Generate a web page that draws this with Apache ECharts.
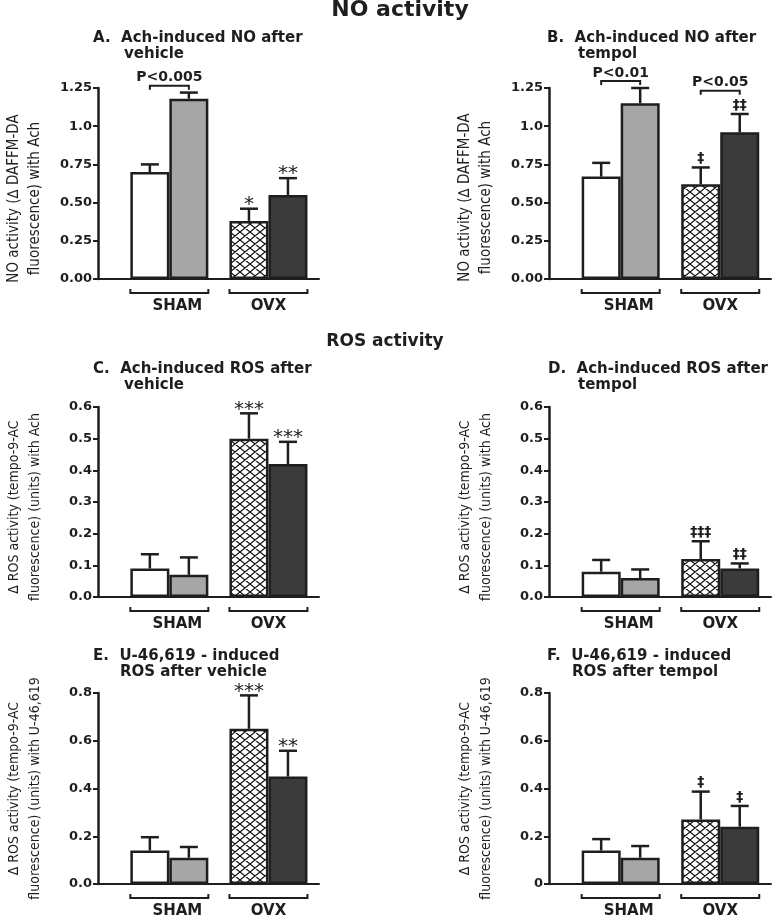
<!DOCTYPE html>
<html><head><meta charset="utf-8">
<script src="https://cdn.jsdelivr.net/npm/echarts@6/dist/echarts.min.js"></script>
<style>html,body{margin:0;padding:0;background:#fff}#c{width:780px;height:916px}</style>
</head><body><div id="c"></div>
<script>
// ---------- DATA ----------
const groups = ['SHAM', 'OVX'];
// bar order in every panel: SHAM-white, SHAM-gray, OVX-hatched, OVX-dark
const noVehMean = [0.70, 1.18, 0.38, 0.55];
const noVehSem  = [0.05, 0.04, 0.08, 0.11];
const noVehSig  = ['', '', '*', '**'];

const noTemMean = [0.67, 1.15, 0.62, 0.96];
const noTemSem  = [0.09, 0.10, 0.11, 0.12];
const noTemSig  = ['', '', '‡', '‡‡'];

const rosAchVehMean = [0.09, 0.07, 0.50, 0.42];
const rosAchVehSem  = [0.045, 0.055, 0.08, 0.07];
const rosAchVehSig  = ['', '', '***', '***'];

const rosAchTemMean = [0.08, 0.06, 0.12, 0.09];
const rosAchTemSem  = [0.037, 0.027, 0.056, 0.016];
const rosAchTemSig  = ['', '', '‡‡‡', '‡‡'];

const rosUVehMean = [0.14, 0.11, 0.65, 0.45];
const rosUVehSem  = [0.056, 0.045, 0.14, 0.108];
const rosUVehSig  = ['', '', '***', '**'];

const rosUTemMean = [0.14, 0.11, 0.27, 0.24];
const rosUTemSem  = [0.048, 0.049, 0.117, 0.087];
const rosUTemSig  = ['', '', '‡', '‡'];

// significance brackets (bar index a to bar index b, at value level)
const pBracketsA = [{a: 0, b: 1, level: 1.265, text: 'P<0.005'}];
const pBracketsB = [{a: 0, b: 1, level: 1.295, text: 'P<0.01'}, {a: 2, b: 3, level: 1.232, text: 'P<0.05'}];

const ticksNO    = ['0.00', '0.25', '0.50', '0.75', '1.0', '1.25'];
const ticksROS6  = ['0.0', '0.1', '0.2', '0.3', '0.4', '0.5', '0.6'];
const ticksROS8E = ['0.0', '0.2', '0.4', '0.6', '0.8'];
const ticksROS8F = ['0', '0.2', '0.4', '0.6', '0.8'];

// ---------- STYLE ----------
const INK = '#1e1e1e';
const BAR_W = 39;
const CAP = 18;
const GROUP_LABEL_DX = [8, 0];
const BOLD = 'DejaVu Sans';
const NARROW = '"Liberation Sans Narrow","DejaVu Sans Condensed","Arial Narrow","Liberation Sans",sans-serif';

function hatchCanvas() {
  const w = 10, h = 8;
  const c = document.createElement('canvas');
  c.width = w; c.height = h;
  const g = c.getContext('2d');
  g.fillStyle = '#fff'; g.fillRect(0, 0, w, h);
  g.strokeStyle = '#111'; g.lineWidth = 1.2;
  g.beginPath();
  for (const dx of [-w, 0, w]) for (const dy of [-h, 0, h]) {
    g.moveTo(dx, dy); g.lineTo(dx + w, dy + h);
    g.moveTo(dx + w, dy); g.lineTo(dx, dy + h);
  }
  g.stroke();
  return c;
}
const HATCH = {image: hatchCanvas(), repeat: 'repeat'};
const FILLS = ['#ffffff', '#a6a6a6', HATCH, '#3b3b3b'];

const panels = [
  {grid: {left: 98, top: 88, width: 221, height: 191}, mean: noVehMean, sem: noVehSem, sig: noVehSig,
   max: 1.25, interval: 0.25, ticks: ticksNO, p: pBracketsA, nameShift: 30, nameSize: 15,
   yname: 'NO activity (∆ DAFFM-DA\nfluorescence) with Ach',
   t1: 'A.  Ach-induced NO after', t2: 'vehicle', tx: 93, tx2: 124, ty: 38},
  {grid: {left: 549, top: 88, width: 222, height: 191}, mean: noTemMean, sem: noTemSem, sig: noTemSig,
   max: 1.25, interval: 0.25, ticks: ticksNO, p: pBracketsB, nameShift: 28, nameSize: 15,
   yname: 'NO activity (∆ DAFFM-DA\nfluorescence) with Ach',
   t1: 'B.  Ach-induced NO after', t2: 'tempol', tx: 547, tx2: 578, ty: 38},
  {grid: {left: 98, top: 407, width: 221, height: 190}, mean: rosAchVehMean, sem: rosAchVehSem, sig: rosAchVehSig,
   max: 0.6, interval: 0.1, ticks: ticksROS6, p: [], nameShift: 10, nameSize: 14,
   yname: '∆ ROS activity (tempo-9-AC\nfluorescence) (units) with Ach',
   t1: 'C.  Ach-induced ROS after', t2: 'vehicle', tx: 93, tx2: 124, ty: 369},
  {grid: {left: 549, top: 407, width: 222, height: 190}, mean: rosAchTemMean, sem: rosAchTemSem, sig: rosAchTemSig,
   max: 0.6, interval: 0.1, ticks: ticksROS6, p: [], nameShift: 10, nameSize: 14,
   yname: '∆ ROS activity (tempo-9-AC\nfluorescence) (units) with Ach',
   t1: 'D.  Ach-induced ROS after', t2: 'tempol', tx: 548, tx2: 578, ty: 369},
  {grid: {left: 98, top: 693, width: 221, height: 191}, mean: rosUVehMean, sem: rosUVehSem, sig: rosUVehSig,
   max: 0.8, interval: 0.2, ticks: ticksROS8E, p: [], nameShift: 0, nameSize: 14,
   yname: '∆ ROS activity (tempo-9-AC\nfluorescence) (units) with U-46,619',
   t1: 'E.  U-46,619 - induced', t2: 'ROS after vehicle', tx: 93, tx2: 120, ty: 656},
  {grid: {left: 549, top: 693, width: 222, height: 191}, mean: rosUTemMean, sem: rosUTemSem, sig: rosUTemSig,
   max: 0.8, interval: 0.2, ticks: ticksROS8F, p: [], nameShift: 0, nameSize: 14,
   yname: '∆ ROS activity (tempo-9-AC\nfluorescence) (units) with U-46,619',
   t1: 'F.  U-46,619 - induced', t2: 'ROS after tempol', tx: 547, tx2: 572, ty: 656}
];

const grid = [], xAxis = [], yAxis = [], series = [], graphic = [];
const grpOf = i => (i < 2 ? 0 : 1);
const offOf = i => (i % 2 ? 0.5 : -0.5) * BAR_W;

graphic.push({type: 'text', x: 400, y: 10, style: {text: 'NO activity', font: 'bold 22px ' + BOLD, fill: INK, align: 'center', verticalAlign: 'middle'}});
graphic.push({type: 'text', x: 385, y: 342, style: {text: 'ROS activity', font: 'bold 17px ' + BOLD, fill: INK, align: 'center', verticalAlign: 'middle'}});

panels.forEach((p, k) => {
  grid.push(Object.assign({containLabel: false}, p.grid));
  xAxis.push({gridIndex: k, type: 'value', min: -0.72, max: 1.51,
    axisLine: {show: true, onZero: true, lineStyle: {color: INK, width: 2}},
    axisTick: {show: false}, axisLabel: {show: false}, splitLine: {show: false}});
  yAxis.push({gridIndex: k, type: 'value', min: 0, max: p.max, interval: p.interval,
    axisLine: {show: true, onZero: false, lineStyle: {color: INK, width: 2.5}},
    axisTick: {show: true, length: 5, lineStyle: {color: INK, width: 2}},
    splitLine: {show: false},
    axisLabel: {margin: 6, color: INK, fontFamily: BOLD, fontWeight: 'bold', fontSize: 13,
      formatter: v => p.ticks[Math.round(v / p.interval)]},
    name: p.yname, nameLocation: 'middle', nameRotate: 90, nameGap: 52,
    nameTextStyle: {fontFamily: NARROW, fontSize: p.nameSize, lineHeight: 21, color: INK, padding: [0, p.nameShift, 0, 0]}});

  // bars: first-of-group and second-of-group series
  [0, 1].forEach(side => {
    series.push({type: 'bar', xAxisIndex: k, yAxisIndex: k, barWidth: BAR_W, barGap: '0%',
      silent: true, animation: false, z: 2,
      data: [0, 1].map(g => {
        const i = g * 2 + side;
        return {value: [g, p.mean[i]], itemStyle: {color: FILLS[i], borderColor: INK, borderWidth: 2.5}};
      })});
  });

  // error bars + significance symbols
  series.push({type: 'custom', xAxisIndex: k, yAxisIndex: k, animation: false, silent: true, z: 3,
    data: p.mean.map((m, i) => [grpOf(i), m, m + p.sem[i], i]),
    renderItem: (params, api) => {
      const i = api.value(3);
      const base = api.coord([api.value(0), api.value(1)]);
      const top = api.coord([api.value(0), api.value(2)]);
      const cx = base[0] + offOf(i);
      const isStar = p.sig[i].indexOf('*') >= 0;
      return {type: 'group', children: [
        {type: 'line', shape: {x1: cx, y1: base[1], x2: cx, y2: top[1]}, style: {stroke: INK, lineWidth: 2.5}},
        {type: 'line', shape: {x1: cx - CAP / 2, y1: top[1], x2: cx + CAP / 2, y2: top[1]}, style: {stroke: INK, lineWidth: 2.5}},
        {type: 'text', x: cx, y: top[1] + (isStar ? 6 : -2), style: {text: p.sig[i], fill: INK, align: 'center', verticalAlign: 'bottom',
          font: isStar ? '20px ' + BOLD : 'bold 14px ' + BOLD}}
      ]};
    }});

  // group brackets below the axis
  series.push({type: 'custom', xAxisIndex: k, yAxisIndex: k, animation: false, silent: true, clip: false,
    data: groups.map((g, j) => [j, 0]),
    renderItem: (params, api) => {
      const j = params.dataIndex;
      const c = api.coord([api.value(0), 0]);
      const y = c[1] + 14;
      return {type: 'group', children: [
        {type: 'polyline', shape: {points: [[c[0] - BAR_W, y - 4], [c[0] - BAR_W, y], [c[0] + BAR_W, y], [c[0] + BAR_W, y - 4]]},
          style: {stroke: INK, lineWidth: 2, fill: null}},
        {type: 'text', x: c[0] + GROUP_LABEL_DX[j], y: y + 13, style: {text: groups[j], fill: INK, align: 'center', verticalAlign: 'middle', font: 'bold 15px ' + BOLD}}
      ]};
    }});

  // P-value brackets
  if (p.p.length) {
    series.push({type: 'custom', xAxisIndex: k, yAxisIndex: k, animation: false, silent: true, clip: false,
      data: p.p.map(b => [grpOf(b.a), grpOf(b.b), b.level, b.a, b.b]),
      renderItem: (params, api) => {
        const b = p.p[params.dataIndex];
        const pa = api.coord([api.value(0), api.value(2)]);
        const pb = api.coord([api.value(1), api.value(2)]);
        const xa = pa[0] + offOf(b.a), xb = pb[0] + offOf(b.b), y = pa[1];
        return {type: 'group', children: [
          {type: 'polyline', shape: {points: [[xa, y + 4], [xa, y], [xb, y], [xb, y + 4]]}, style: {stroke: INK, lineWidth: 2, fill: null}},
          {type: 'text', x: (xa + xb) / 2, y: y - 1, style: {text: b.text, fill: INK, align: 'center', verticalAlign: 'bottom', font: 'bold 14px ' + BOLD}}
        ]};
      }});
  }

  graphic.push({type: 'text', x: p.tx, y: p.ty, style: {text: p.t1, font: 'bold 15px ' + BOLD, fill: INK, verticalAlign: 'middle'}});
  graphic.push({type: 'text', x: p.tx2, y: p.ty + 16, style: {text: p.t2, font: 'bold 15px ' + BOLD, fill: INK, verticalAlign: 'middle'}});
});

const chart = echarts.init(document.getElementById('c'), null, {renderer: 'canvas'});
chart.setOption({backgroundColor: '#fff', animation: false, grid, xAxis, yAxis, series, graphic});
</script></body></html>
